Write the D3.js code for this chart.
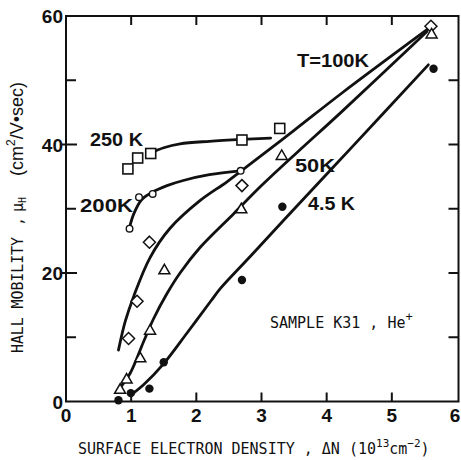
<!DOCTYPE html>
<html>
<head>
<meta charset="utf-8">
<script src="https://cdn.jsdelivr.net/npm/d3@7"></script>
<style>
  html, body { margin: 0; padding: 0; background: #fff; }
  svg { display: block; }
  .num { font-family: "Liberation Sans", Arial, sans-serif; font-weight: bold; fill: #111; }
  .mono { font-family: "DejaVu Sans Mono", "Liberation Mono", monospace; fill: #111; }
</style>
</head>
<body>
<svg id="chart" width="461" height="460"></svg>
<script>
// Axis ticks
const xTicks = [0, 1, 2, 3, 4, 5, 6];
const yTicks = [0, 20, 40, 60];
const yMinorTicks = [10, 30, 50];
const innerTicks = [1, 2, 3, 4, 5];
const rightTicks = [10, 20, 30, 40, 50];

// Measured Hall mobility (x: 10^13 cm^-2, y: cm^2/V·sec)
const pts250K = [[0.95, 36.2], [1.10, 37.9], [1.30, 38.6], [2.70, 40.7], [3.28, 42.5]];
const pts200K = [[0.975, 26.9], [1.12, 31.8], [1.33, 32.3], [2.68, 35.9]];
const pts100K = [[0.96, 9.8], [1.09, 15.6], [1.28, 24.8], [2.70, 33.6], [5.60, 58.4]];
const pts50K  = [[0.83, 1.9], [0.93, 3.5], [1.14, 6.8], [1.29, 11.1], [1.51, 20.5], [2.69, 30.0], [3.31, 38.3], [5.61, 57.2]];
const pts4K   = [[0.805, 0.2], [0.995, 1.3], [1.28, 2.0], [1.50, 6.1], [2.70, 18.9], [3.32, 30.3], [5.64, 51.8]];

// Smooth guide curves through each temperature
const fit250K = [[1.30, 38.7], [1.50, 39.5], [1.75, 40.1], [2.20, 40.5], [2.70, 40.8], [3.14, 41.0]];
const fit200K = [[0.975, 27.1], [1.04, 29.2], [1.16, 31.4], [1.33, 32.6], [1.55, 33.6], [1.80, 34.4], [2.20, 35.3], [2.68, 35.9]];
const fit100K = [[0.805, 8.0], [0.91, 12.5], [1.04, 16.4], [1.29, 22.4], [1.60, 27.0], [2.06, 31.3], [2.47, 34.2], [2.83, 37.0], [3.50, 42.2], [4.22, 47.9], [5.57, 58.1]];
const fit50K  = [[0.78, 1.5], [0.985, 4.4], [1.19, 9.3], [1.34, 12.8], [1.55, 16.8], [1.75, 20.0], [2.06, 24.0], [2.57, 29.2], [3.00, 33.6], [3.55, 38.8], [4.22, 45.0], [5.54, 57.6]];
const fit4K   = [[0.995, 1.0], [1.19, 2.6], [1.50, 5.9], [1.86, 10.7], [2.22, 15.6], [2.37, 17.6], [2.83, 22.6], [3.34, 28.2], [4.37, 39.4], [5.56, 52.4]];

const svg = d3.select("#chart");
const x = d3.scaleLinear().domain([0, 6]).range([66, 457]);
const y = d3.scaleLinear().domain([0, 60]).range([401.5, 16]);

const ink = "#111";

// Frame
svg.append("rect")
  .attr("x", x(0)).attr("y", y(60))
  .attr("width", 458.5 - x(0)).attr("height", y(0) - y(60))
  .attr("fill", "none").attr("stroke", ink).attr("stroke-width", 2);

// Inward ticks on all four sides
const tickG = svg.append("g").attr("stroke", ink).attr("stroke-width", 2);
innerTicks.forEach(v => {
  tickG.append("line").attr("x1", x(v)).attr("x2", x(v)).attr("y1", y(0)).attr("y2", y(0) - 9);
  tickG.append("line").attr("x1", x(v)).attr("x2", x(v)).attr("y1", y(60)).attr("y2", y(60) + 9);
});
yTicks.filter(v => v > 0 && v < 60).forEach(v => {
  tickG.append("line").attr("x1", x(0) - 4).attr("x2", x(0) + 11).attr("y1", y(v)).attr("y2", y(v));
});
yMinorTicks.forEach(v => {
  tickG.append("line").attr("x1", x(0)).attr("x2", x(0) + 10).attr("y1", y(v)).attr("y2", y(v));
});
rightTicks.forEach(v => {
  tickG.append("line").attr("x1", 458.5).attr("x2", 458.5 - 10).attr("y1", y(v)).attr("y2", y(v));
});

// Tick labels
svg.append("g").selectAll("text").data(xTicks).join("text")
  .attr("class", "num").attr("font-size", 19)
  .attr("x", d => d === 6 ? x(d) - 2 : x(d)).attr("y", 422)
  .attr("text-anchor", "middle").text(d => d);
svg.append("g").selectAll("text").data(yTicks).join("text")
  .attr("class", "num").attr("font-size", 19)
  .attr("x", 63).attr("y", d => y(d) + 7)
  .attr("text-anchor", "end").text(d => d);

// Guide curves
const line = d3.line().x(d => x(d[0])).y(d => y(d[1])).curve(d3.curveCatmullRom.alpha(0.5));
[fit250K, fit200K, fit100K, fit50K, fit4K].forEach(f => {
  svg.append("path").attr("d", line(f)).attr("fill", "none")
    .attr("stroke", ink).attr("stroke-width", 2.8).attr("stroke-linecap", "round");
});

// Markers
const mk = svg.append("g");
mk.selectAll(".sq").data(pts250K).join("rect").attr("class", "sq")
  .attr("x", d => x(d[0]) - 5).attr("y", d => y(d[1]) - 5)
  .attr("width", 10).attr("height", 10)
  .attr("fill", "#fff").attr("stroke", ink).attr("stroke-width", 1.6);
mk.selectAll(".oc").data(pts200K).join("circle").attr("class", "oc")
  .attr("cx", d => x(d[0])).attr("cy", d => y(d[1])).attr("r", 3.3)
  .attr("fill", "#fff").attr("stroke", ink).attr("stroke-width", 1.4);
mk.selectAll(".dm").data(pts100K).join("path").attr("class", "dm")
  .attr("d", d => `M${x(d[0])},${y(d[1]) - 6}l6,6l-6,6l-6,-6z`)
  .attr("fill", "#fff").attr("stroke", ink).attr("stroke-width", 1.5);
mk.selectAll(".tr").data(pts50K).join("path").attr("class", "tr")
  .attr("d", d => `M${x(d[0])},${y(d[1]) - 5.5}l5.5,9.5l-11,0z`)
  .attr("fill", "#fff").attr("stroke", ink).attr("stroke-width", 1.5);
mk.selectAll(".fc").data(pts4K).join("circle").attr("class", "fc")
  .attr("cx", d => x(d[0])).attr("cy", d => y(d[1])).attr("r", 4.2)
  .attr("fill", ink);

// Curve labels
const labels = [
  { t: "250 K", x: 90, y: 146, w: 53 },
  { t: "200K", x: 80, y: 212, w: 53 },
  { t: "T=100K", x: 297, y: 67, w: 72 },
  { t: "50K", x: 295, y: 172, w: 40 },
  { t: "4.5 K", x: 308, y: 210, w: 47 }
];
svg.append("g").selectAll("text").data(labels).join("text")
  .attr("class", "num").attr("font-size", 18)
  .attr("x", d => d.x).attr("y", d => d.y)
  .attr("textLength", d => d.w).attr("lengthAdjust", "spacingAndGlyphs")
  .text(d => d.t);

// Sample annotation
const samp = svg.append("text").attr("class", "mono").attr("font-size", 15)
  .attr("x", 270).attr("y", 328);
samp.append("tspan").text("SAMPLE K31 , He");
samp.append("tspan").attr("font-size", 12).attr("dy", -7).text("+");

// X axis title
const xt = svg.append("text").attr("class", "mono").attr("font-size", 15)
  .attr("x", 78).attr("y", 454);
xt.append("tspan").text("SURFACE ELECTRON DENSITY , ΔN  (10");
xt.append("tspan").attr("font-size", 11).attr("dy", -7).text("13");
xt.append("tspan").attr("dy", 7).text("cm");
xt.append("tspan").attr("font-size", 11).attr("dy", -7).text("−2");
xt.append("tspan").attr("dy", 7).text(")");

// Y axis title
const yg = svg.append("g").attr("transform", "translate(23,0) rotate(-90)");
yg.append("text").attr("class", "mono").attr("font-size", 15)
  .attr("x", -353).attr("y", 0).attr("textLength", 116).text("HALL MOBILITY");
yg.append("text").attr("class", "mono").attr("font-size", 15)
  .attr("x", -226).attr("y", 0).text(",");
const mu = yg.append("text").attr("class", "mono").attr("font-size", 15)
  .attr("x", -212).attr("y", 0);
mu.append("tspan").text("μ");
mu.append("tspan").attr("font-size", 10).attr("dy", 3).text("H");
const unit = yg.append("text").attr("font-family", "Liberation Sans, Arial, sans-serif")
  .attr("font-size", 18).attr("fill", ink).attr("x", -176).attr("y", 0);
unit.append("tspan").text("(cm");
unit.append("tspan").attr("font-size", 12).attr("dy", -8).text("2");
unit.append("tspan").attr("dy", 8).text("/V•sec)");
</script>
</body>
</html>
